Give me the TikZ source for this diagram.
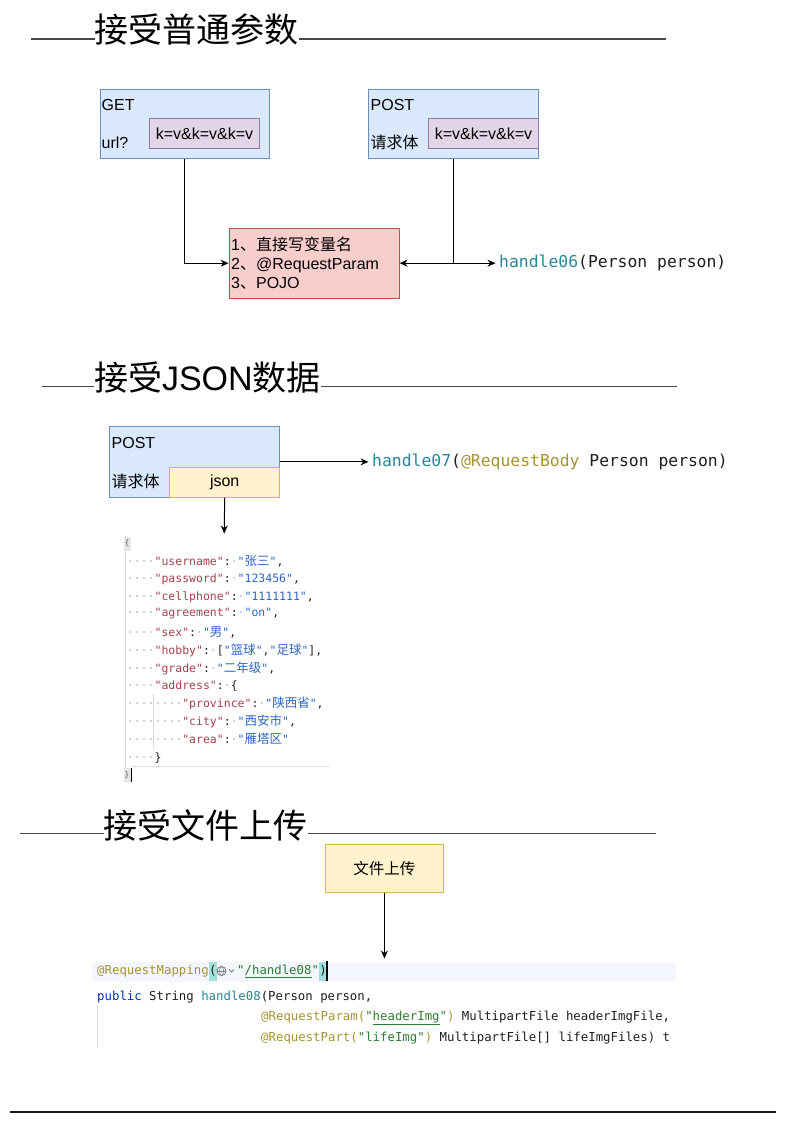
\documentclass[tikz,border=0pt]{standalone}
\usepackage{fontspec}
\setmainfont{Liberation Sans}
\setmonofont{DejaVu Sans Mono}
\newfontfamily\cjk{Noto Sans CJK SC}
\usetikzlibrary{arrows.meta}
\definecolor{bfill}{HTML}{DAE8FC}
\definecolor{bstroke}{HTML}{6C8EBF}
\definecolor{pfill}{HTML}{E1D5E7}
\definecolor{pstroke}{HTML}{9673A6}
\definecolor{rfill}{HTML}{F8CECC}
\definecolor{rstroke}{HTML}{B85450}
\definecolor{yfill}{HTML}{FFF2CC}
\definecolor{ystroke}{HTML}{D6B656}
\definecolor{methc}{HTML}{2A8599}
\definecolor{annoc}{HTML}{A69432}
\definecolor{strc}{HTML}{2E7D32}
\definecolor{kwc}{HTML}{0033B3}
\definecolor{codec}{HTML}{1E1E1E}
\definecolor{jkey}{HTML}{A8424E}
\definecolor{jval}{HTML}{2C66C4}
\definecolor{dotc}{HTML}{B5B5B5}
\definecolor{guidec}{HTML}{D9D9D9}
\definecolor{hlc}{HTML}{A3DFDB}
\definecolor{linebg}{HTML}{F3F6FD}
\newcommand\jk[1]{\textcolor{jkey}{"#1"}}
\newcommand\jv[1]{\textcolor{jval}{"#1"}}
\newcommand\jd[1]{\textcolor{dotc}{#1}}
\newcommand\jc[1]{{\cjk\fontsize{12.5}{14}\selectfont #1}}
\begin{document}
\begin{tikzpicture}[x=1pt,y=-1pt,
  box/.style={draw, line width=1pt, anchor=north west, inner sep=0pt},
  lab/.style={font=\fontsize{16}{18.7}\selectfont, inner sep=0pt, anchor=west, text=black},
  ttl/.style={font=\fontsize{34}{40}\selectfont, inner sep=0pt, anchor=west, text=black},
  hdr/.style={line width=1.2pt, draw=black!72},
  arr/.style={line width=1pt, -{Stealth[length=8pt,width=7pt]}},
  mono/.style={font=\fontsize{16.4}{19}\selectfont\ttfamily, inner xsep=3.5pt, inner ysep=0pt, anchor=west, text=codec},
  js/.style={font=\fontsize{11.5}{14}\selectfont\ttfamily, inner sep=0pt, anchor=west, text=codec},
  cd/.style={font=\fontsize{12.35}{15}\selectfont\ttfamily, inner sep=0pt, anchor=west, text=codec},
  guide/.style={draw=guidec, line width=0.8pt}
]
\useasboundingbox (0,0) rectangle (788,1125);
\fill[white] (0,0) rectangle (788,1125);

% ---------- Section 1 ----------
\node[ttl] (t1) at (94.5,30) {\cjk 接受普通参数};
\coordinate (t1l) at (31,39);
\coordinate (t1r) at (666,39);
\draw[hdr] (t1l) -- (t1.west |- t1l);
\draw[hdr] (t1.east |- t1r) -- (t1r);

\node[box, fill=bfill, draw=bstroke, minimum width=169.5pt, minimum height=69.6pt] (get) at (99.5,88.7) {};
\node[box, fill=pfill, draw=pstroke, minimum width=110pt, minimum height=30.3pt, font=\fontsize{16}{18.7}\selectfont] (getkv) at (149,118) {k=v\&k=v\&k=v};
\node[lab] (getl) at (101.5,105) {GET};
\node[lab] (urll) at (101.5,143) {url?};

\node[box, fill=bfill, draw=bstroke, minimum width=170pt, minimum height=69.6pt] (post) at (368,88.7) {};
\node[box, fill=pfill, draw=pstroke, minimum width=110pt, minimum height=30.3pt, font=\fontsize{16}{18.7}\selectfont] (postkv) at (428,118) {k=v\&k=v\&k=v};
\node[lab] (postl) at (370.5,105) {POST};
\node[lab] (bodyl) at (370.5,142.5) {\cjk 请求体};

\node[box, fill=rfill, draw=rstroke, minimum width=170pt, minimum height=70pt] (red) at (228.6,227.7) {};
\node[lab, align=left] (redt) at (231,263) {1{\cjk 、直接写变量名}\\2{\cjk 、}@RequestParam\\3{\cjk 、}POJO};

\coordinate (jn) at (post.south |- red.east);
\node[mono] (h6) at ([xshift=42pt]jn) {\textcolor{methc}{handle06}(Person person)};

\draw[arr] (get.south) |- (red.west);
\draw[arr] (post.south) |- (red.east);
\draw[arr] (jn) -- (h6.west);

% ---------- Section 2 ----------
\node[ttl] (t2) at (93.8,377.5) {{\cjk 接受}JSON{\cjk 数据}};
\coordinate (t2l) at (41.5,386.7);
\coordinate (t2r) at (677,386.7);
\draw[hdr] (t2l) -- (t2.west |- t2l);
\draw[hdr] (t2.east |- t2r) -- (t2r);

\node[box, fill=bfill, draw=bstroke, minimum width=170pt, minimum height=70.7pt] (post2) at (109,426) {};
\node[box, fill=yfill, draw=ystroke, minimum width=109.6pt, minimum height=30pt, font=\fontsize{16}{18.7}\selectfont] (jsonb) at (169.4,466.7) {json};
\node[lab] (post2l) at (111.5,442.7) {POST};
\node[lab] (body2l) at (111.5,481.7) {\cjk 请求体};

\node[mono] (h7) at ([xshift=88.5pt]post2.east) {\textcolor{methc}{handle07}(\textcolor{annoc}{@RequestBody} Person person)};
\draw[arr] (post2.east) -- (h7.west);
\coordinate (jsontop) at (224.2,533.5);
\draw[arr] (jsonb.south) -- (jsontop);

% JSON code block
\draw[draw=black!15, line width=1pt] (125,536) -- (125,782);
\fill[black!10] (123.5,536.5) rectangle (130.5,551);
\node[inner sep=0pt, font=\fontsize{8}{9}\selectfont\ttfamily, text=black!65] (jopen) at (127,543.5) {\{};
\node[js] (j1) at (126.7,561) {\jd{····}\jk{username}:\jd{·}\jv{\jc{张三}},};
\node[js] (j2) at (126.7,579) {\jd{····}\jk{password}:\jd{·}\jv{123456},};
\node[js] (j3) at (126.7,597) {\jd{····}\jk{cellphone}:\jd{·}\jv{1111111},};
\node[js] (j4) at (126.7,614) {\jd{····}\jk{agreement}:\jd{·}\jv{on},};
\node[js] (j5) at (126.7,632) {\jd{····}\jk{sex}:\jd{·}\jv{\jc{男}},};
\node[js] (j6) at (126.7,650) {\jd{····}\jk{hobby}:\jd{·}[\jv{\jc{篮球}},\jv{\jc{足球}}],};
\node[js] (j7) at (126.7,668) {\jd{····}\jk{grade}:\jd{·}\jv{\jc{二年级}},};
\node[js] (j8) at (126.7,686) {\jd{····}\jk{address}:\jd{·}\{};
\node[js] (j9) at (126.7,703.5) {\jd{········}\jk{province}:\jd{·}\jv{\jc{陕西省}},};
\node[js] (j10) at (126.7,721) {\jd{········}\jk{city}:\jd{·}\jv{\jc{西安市}},};
\node[js] (j11) at (126.7,739) {\jd{········}\jk{area}:\jd{·}\jv{\jc{雁塔区}}};
\node[js] (j12) at (126.7,758) {\jd{····}\}};
\draw[guide] (153.3,694) -- (153.3,748);
\draw[draw=black!12, line width=1pt] (131,766.7) -- (330,766.7);
\fill[black!10] (123.5,768) rectangle (130.5,782);
\node[inner sep=0pt, font=\fontsize{8}{9}\selectfont\ttfamily, text=black!65] (jclose) at (127,775) {\}};
\draw[line width=1.3pt, black] (131.5,768) -- (131.5,782);

% ---------- Section 3 ----------
\node[ttl] (t3) at (103.6,825) {\cjk 接受文件上传};
\coordinate (t3l) at (20,833.3);
\coordinate (t3r) at (656,833.3);
\draw[hdr] (t3l) -- (t3.west |- t3l);
\draw[hdr] (t3.east |- t3r) -- (t3r);

\node[box, fill=yfill, draw=ystroke, minimum width=118.7pt, minimum height=47.7pt, font=\fontsize{15.5}{18}\selectfont] (upl) at (324.6,844) {\cjk 文件上传};
\coordinate (codetop) at (upl.south |- 0,958.5);
\draw[arr] (upl.south) -- (codetop);

% code block
\begin{scope}
\clip (88,955) rectangle (677,1055);
\fill[linebg] (92,962) rectangle (676,982);
\node[cd] (c1a) at (97,971) {\textcolor{annoc}{@RequestMapping}};
\node[cd, fill=hlc, minimum height=19pt] (c1b) at (c1a.east) {(};
\draw[black!50, line width=0.8pt] (221.5,971) circle (4.6);
\draw[black!50, line width=0.6pt] (216.9,971) -- (226.1,971);
\draw[black!50, line width=0.6pt] (221.5,971) ellipse (2 and 4.6);
\draw[black!50, line width=0.8pt] (229,969.5) -- (231.5,972) -- (234,969.5);
\node[cd] (c1c) at (237,971) {\textcolor{strc}{"\underline{/handle08}"}};
\node[cd, fill=hlc, minimum height=19pt] (c1d) at (c1c.east) {)};
\draw[black, line width=1.2pt] (c1d.north east) -- (c1d.south east);
\node[cd] (c2) at (97,997) {\textcolor{kwc}{public} String \textcolor{methc}{handle08}(Person person,};
\draw[guide] (97,1004) -- (97,1048);
\node[cd] (c3) at (261,1018) {\textcolor{annoc}{@RequestParam(}\textcolor{strc}{"\underline{headerImg}"}\textcolor{annoc}{)} MultipartFile headerImgFile,};
\node[cd] (c4) at (261,1038) {\textcolor{annoc}{@RequestPart(}\textcolor{strc}{"lifeImg"}\textcolor{annoc}{)} MultipartFile[] lifeImgFiles) t};
\end{scope}

% bottom rule
\coordinate (botl) at (10,1112.3);
\coordinate (botr) at (775.5,1112.3);
\draw[line width=2pt, black!90] (botl) -- (botr);
\end{tikzpicture}
\end{document}
